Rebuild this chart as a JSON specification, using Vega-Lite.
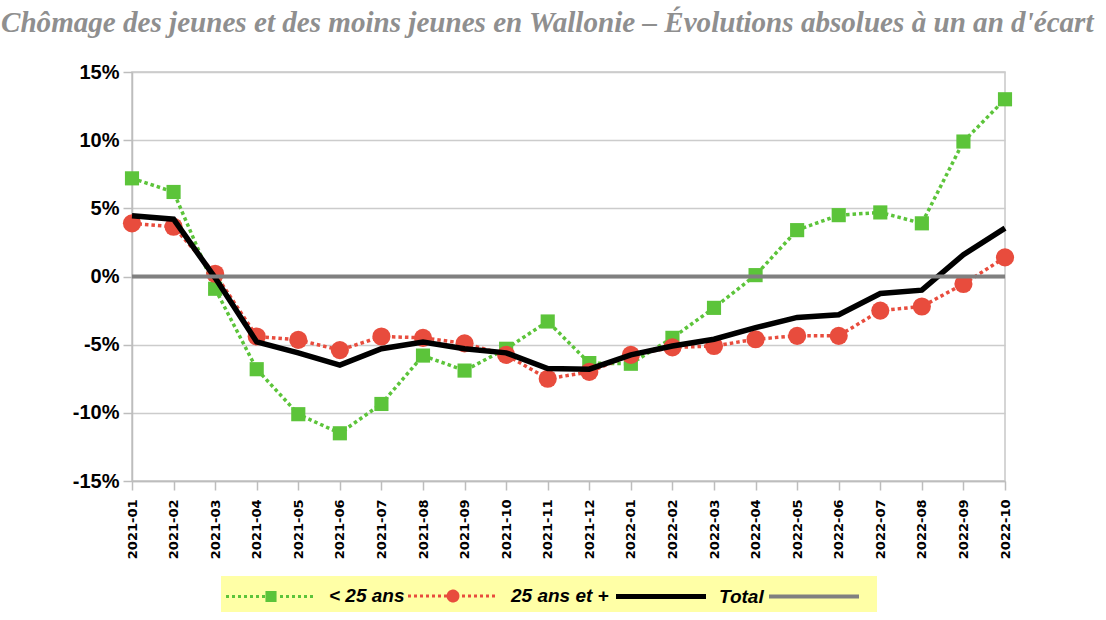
{
  "$schema": "https://vega.github.io/schema/vega-lite/v6.json",
  "width": 873,
  "height": 409,
  "autosize": {"type": "none"},
  "padding": {"left": 132, "top": 72, "right": 101, "bottom": 139},
  "background": "white",
  "config": {
    "view": {"stroke": "#c8c8c8", "strokeWidth": 1.5},
    "font": "Liberation Sans"
  },
  "title": {
    "text": "Chômage des jeunes et des moins jeunes en Wallonie – Évolutions absolues à un an d'écart",
    "font": "Liberation Serif",
    "fontSize": 29.1,
    "fontStyle": "italic",
    "fontWeight": "bold",
    "color": "#8f8f8f",
    "anchor": "start",
    "frame": "group",
    "dx": -131,
    "baseline": "alphabetic",
    "offset": 1
  },
  "datasets": {
    "d": [
      {"month": "2021-01", "series": "< 25 ans", "value": 7.2},
      {"month": "2021-02", "series": "< 25 ans", "value": 6.2},
      {"month": "2021-03", "series": "< 25 ans", "value": -0.9},
      {"month": "2021-04", "series": "< 25 ans", "value": -6.8},
      {"month": "2021-05", "series": "< 25 ans", "value": -10.1},
      {"month": "2021-06", "series": "< 25 ans", "value": -11.5},
      {"month": "2021-07", "series": "< 25 ans", "value": -9.35},
      {"month": "2021-08", "series": "< 25 ans", "value": -5.8},
      {"month": "2021-09", "series": "< 25 ans", "value": -6.9},
      {"month": "2021-10", "series": "< 25 ans", "value": -5.3},
      {"month": "2021-11", "series": "< 25 ans", "value": -3.3},
      {"month": "2021-12", "series": "< 25 ans", "value": -6.35},
      {"month": "2022-01", "series": "< 25 ans", "value": -6.4},
      {"month": "2022-02", "series": "< 25 ans", "value": -4.5},
      {"month": "2022-03", "series": "< 25 ans", "value": -2.3},
      {"month": "2022-04", "series": "< 25 ans", "value": 0.1},
      {"month": "2022-05", "series": "< 25 ans", "value": 3.4},
      {"month": "2022-06", "series": "< 25 ans", "value": 4.5},
      {"month": "2022-07", "series": "< 25 ans", "value": 4.7},
      {"month": "2022-08", "series": "< 25 ans", "value": 3.9},
      {"month": "2022-09", "series": "< 25 ans", "value": 9.9},
      {"month": "2022-10", "series": "< 25 ans", "value": 13.0},
      {"month": "2021-01", "series": "25 ans et +", "value": 3.9},
      {"month": "2021-02", "series": "25 ans et +", "value": 3.65},
      {"month": "2021-03", "series": "25 ans et +", "value": 0.2},
      {"month": "2021-04", "series": "25 ans et +", "value": -4.4},
      {"month": "2021-05", "series": "25 ans et +", "value": -4.65},
      {"month": "2021-06", "series": "25 ans et +", "value": -5.4},
      {"month": "2021-07", "series": "25 ans et +", "value": -4.4},
      {"month": "2021-08", "series": "25 ans et +", "value": -4.5},
      {"month": "2021-09", "series": "25 ans et +", "value": -4.9},
      {"month": "2021-10", "series": "25 ans et +", "value": -5.75},
      {"month": "2021-11", "series": "25 ans et +", "value": -7.5},
      {"month": "2021-12", "series": "25 ans et +", "value": -7.0},
      {"month": "2022-01", "series": "25 ans et +", "value": -5.75},
      {"month": "2022-02", "series": "25 ans et +", "value": -5.2},
      {"month": "2022-03", "series": "25 ans et +", "value": -5.1},
      {"month": "2022-04", "series": "25 ans et +", "value": -4.6},
      {"month": "2022-05", "series": "25 ans et +", "value": -4.35},
      {"month": "2022-06", "series": "25 ans et +", "value": -4.35},
      {"month": "2022-07", "series": "25 ans et +", "value": -2.5},
      {"month": "2022-08", "series": "25 ans et +", "value": -2.2},
      {"month": "2022-09", "series": "25 ans et +", "value": -0.55},
      {"month": "2022-10", "series": "25 ans et +", "value": 1.4},
      {"month": "2021-01", "series": "Total", "value": 4.45},
      {"month": "2021-02", "series": "Total", "value": 4.2},
      {"month": "2021-03", "series": "Total", "value": -0.1},
      {"month": "2021-04", "series": "Total", "value": -4.8},
      {"month": "2021-05", "series": "Total", "value": -5.6},
      {"month": "2021-06", "series": "Total", "value": -6.5},
      {"month": "2021-07", "series": "Total", "value": -5.3},
      {"month": "2021-08", "series": "Total", "value": -4.8},
      {"month": "2021-09", "series": "Total", "value": -5.3},
      {"month": "2021-10", "series": "Total", "value": -5.6},
      {"month": "2021-11", "series": "Total", "value": -6.75},
      {"month": "2021-12", "series": "Total", "value": -6.8},
      {"month": "2022-01", "series": "Total", "value": -5.75},
      {"month": "2022-02", "series": "Total", "value": -5.1},
      {"month": "2022-03", "series": "Total", "value": -4.6},
      {"month": "2022-04", "series": "Total", "value": -3.75},
      {"month": "2022-05", "series": "Total", "value": -3.0},
      {"month": "2022-06", "series": "Total", "value": -2.8},
      {"month": "2022-07", "series": "Total", "value": -1.25},
      {"month": "2022-08", "series": "Total", "value": -1.0},
      {"month": "2022-09", "series": "Total", "value": 1.6},
      {"month": "2022-10", "series": "Total", "value": 3.55},
      {"month": "2021-01", "series": "zero", "value": 0},
      {"month": "2022-10", "series": "zero", "value": 0}
    ]
  },
  "data": {"name": "d"},
  "encoding": {
    "x": {
      "field": "month",
      "type": "ordinal",
      "scale": {"type": "point", "padding": 0},
      "axis": {
        "title": null,
        "labelAngle": -90,
        "labelFont": "DejaVu Sans",
        "labelFontWeight": "bold",
        "labelFontSize": 13,
        "labelColor": "#000000",
        "labelPadding": 9,
        "tickSize": 9,
        "tickColor": "#bdbdbd",
        "tickWidth": 1.5,
        "domainColor": "#bdbdbd",
        "domainWidth": 1.5,
        "grid": false
      }
    },
    "y": {
      "field": "value",
      "type": "quantitative",
      "scale": {"domain": [-15, 15], "nice": false, "zero": false},
      "axis": {
        "title": null,
        "values": [-15, -10, -5, 0, 5, 10, 15],
        "labelExpr": "datum.value + '%'",
        "labelFont": "Liberation Sans",
        "labelFontWeight": "bold",
        "labelFontSize": 20,
        "labelColor": "#000000",
        "labelPadding": 4,
        "tickSize": 9,
        "tickColor": "#bdbdbd",
        "tickWidth": 1.5,
        "domainColor": "#bdbdbd",
        "domainWidth": 1.5,
        "grid": true,
        "gridColor": "#cccccc",
        "gridWidth": 1.5
      }
    },
    "color": {
      "field": "series",
      "type": "nominal",
      "scale": {
        "domain": ["< 25 ans", "25 ans et +", "Total", "zero"],
        "range": ["#5cc43a", "#e84c3d", "#000000", "#808080"]
      },
      "legend": {
        "orient": "none",
        "legendX": 89,
        "legendY": 504,
        "direction": "horizontal",
        "columns": 4,
        "title": null,
        "fillColor": "#ffffa6",
        "padding": 5,
        "columnPadding": -3,
        "labelFont": "Liberation Sans",
        "labelFontSize": 19,
        "labelFontWeight": "bold",
        "labelFontStyle": "italic",
        "labelColor": "#000000",
        "labelExpr": "datum.label == 'zero' ? '' : datum.label",
        "symbolSize": 8100,
        "symbolStrokeWidth": 3,
        "encode": {
          "legend": {"update": {"height": {"value": 31}}},
          "symbols": {
            "update": {
              "x": {"value": 45},
              "y": {"value": 15},
              "shape": {"signal": "datum.value == '< 25 ans' ? 'M-1,0h0.067M-0.867,0h0.067M-0.733,0h0.067M-0.6,0h0.067M-0.467,0h0.067M-0.333,0h0.067M-0.2,0h0.067M0.2,0h0.067M0.333,0h0.067M0.467,0h0.067M0.6,0h0.067M0.733,0h0.067M0.867,0h0.067M-0.09,-0.09H0.09V0.09H-0.09Z' : datum.value == '25 ans et +' ? 'M-1,0h0.067M-0.867,0h0.067M-0.733,0h0.067M-0.6,0h0.067M-0.467,0h0.067M-0.333,0h0.067M-0.2,0h0.067M0.2,0h0.067M0.333,0h0.067M0.467,0h0.067M0.6,0h0.067M0.733,0h0.067M0.867,0h0.067M-0.11,0A0.11,0.11 0 1,1 0.11,0A0.11,0.11 0 1,1 -0.11,0Z' : 'M-1,0H1'"},
              "strokeDash": {"value": [1, 0]},
              "strokeWidth": {"signal": "datum.value == 'Total' ? 5 : datum.value == 'zero' ? 4 : 3"},
              "fill": {"signal": "datum.value == '< 25 ans' ? '#5cc43a' : datum.value == '25 ans et +' ? '#e84c3d' : 'transparent'"},
              "opacity": {"value": 1}
            }
          },
          "labels": {
            "update": {
              "x": {"value": 103},
              "y": {"value": 15}
            }
          }
        }
      }
    }
  },
  "layer": [
    {
      "transform": [{"filter": "datum.series == '< 25 ans'"}],
      "mark": {"type": "line", "strokeWidth": 3.5, "strokeDash": [3.5, 3]}
    },
    {
      "transform": [{"filter": "datum.series == '< 25 ans'"}],
      "mark": {"type": "point", "shape": "square", "filled": true, "size": 200, "opacity": 1}
    },
    {
      "transform": [{"filter": "datum.series == '25 ans et +'"}],
      "mark": {"type": "line", "strokeWidth": 3.5, "strokeDash": [3.5, 3]}
    },
    {
      "transform": [{"filter": "datum.series == '25 ans et +'"}],
      "mark": {"type": "point", "shape": "circle", "filled": true, "size": 330, "opacity": 1}
    },
    {
      "transform": [{"filter": "datum.series == 'Total'"}],
      "mark": {"type": "line", "strokeWidth": 5.5}
    },
    {
      "transform": [{"filter": "datum.series == 'zero'"}],
      "mark": {"type": "line", "strokeWidth": 4}
    }
  ]
}
